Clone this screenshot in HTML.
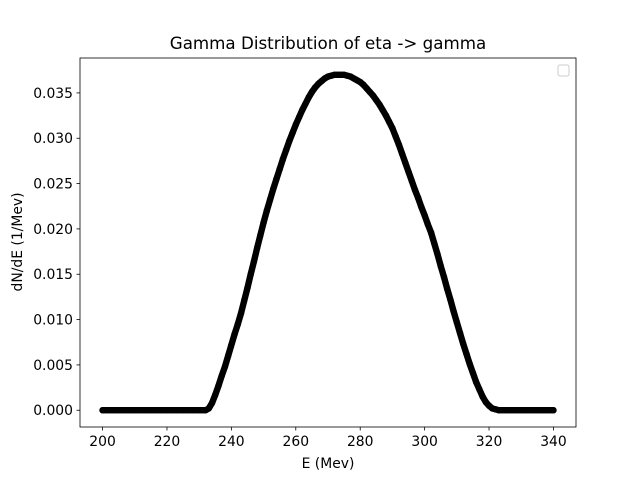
<!DOCTYPE html>
<html><head><meta charset="utf-8"><style>
body{margin:0;background:#fff;}
svg text{font-family:"DejaVu Sans","Liberation Sans",sans-serif;fill:#000;}
</style></head><body>
<svg id="chart" width="640" height="480" viewBox="0 0 640 480" xmlns="http://www.w3.org/2000/svg">
<rect width="640" height="480" fill="#fff"/>
<g id="marks"></g>
<g id="axes"></g>
<text x="328" y="49" font-size="16.7" text-anchor="middle">Gamma Distribution of eta -&gt; gamma</text>
<text x="328" y="468" font-size="13.9" text-anchor="middle">E (Mev)</text>
<text x="22" y="242" font-size="13.9" text-anchor="middle" transform="rotate(-90 22 242)">dN/dE (1/Mev)</text>
<rect x="558" y="65" width="11" height="11" rx="2" fill="#fff" stroke="#ccc"/>
</svg>
<script>
const xStart = 200;
const yValues = [
0,0,0,0,0,0,0,0,0,0, 0,0,0,0,0,0,0,0,0,0, 0,0,0,0,0,0,0,0,0,0, 0,0,0,
0.0002,0.0008,0.0017,0.0027,0.0038,0.0048,0.0060,0.0072,0.0084,0.0095,
0.0107,0.0121,0.0135,0.0150,0.0164,0.0179,0.0193,0.0207,0.0220,0.0232,
0.0244,0.0255,0.0266,0.0277,0.0287,0.0297,0.0306,0.0315,0.0323,0.0331,
0.0338,0.0345,0.0351,0.0356,0.0360,0.0363,0.0366,0.0368,0.0369,0.0370,
0.0370,0.0370,0.0370,0.0369,0.0368,0.0366,0.0364,0.0362,0.0359,0.0355,
0.0351,0.0347,0.0342,0.0337,0.0331,0.0325,0.0318,0.0311,0.0302,0.0293,
0.0283,0.0273,0.0263,0.0253,0.0243,0.0234,0.0224,0.0215,0.0205,0.0196,
0.0184,0.0172,0.0159,0.0147,0.0134,0.0122,0.0109,0.0097,0.0085,0.0073,
0.0062,0.0051,0.0041,0.0031,0.0023,0.0015,0.0009,0.0005,0.0002,0.0001,
0,0,0,0,0,0,0,0,0,0, 0,0,0,0,0,0,0,0
];
const xTicks = [200,220,240,260,280,300,320,340];
const yTicks = [0,0.005,0.010,0.015,0.020,0.025,0.030,0.035];
const yTickLabels = ["0.000","0.005","0.010","0.015","0.020","0.025","0.030","0.035"];

const L=80,R=576,T=58,B=427;
const xMin=193,xMax=347,yMin=-0.00185,yMax=0.03885;
const sx=v=>L+(v-xMin)/(xMax-xMin)*(R-L);
const sy=v=>B-(v-yMin)/(yMax-yMin)*(B-T);
const NS="http://www.w3.org/2000/svg";
const marks=document.getElementById('marks');
const pts=yValues.map((y,i)=>sx(xStart+i).toFixed(2)+','+sy(y).toFixed(2)).join(' ');
const pl=document.createElementNS(NS,'polyline');
pl.setAttribute('points',pts);
pl.setAttribute('fill','none');pl.setAttribute('stroke','#000');
pl.setAttribute('stroke-width',6.4);pl.setAttribute('stroke-linejoin','round');pl.setAttribute('stroke-linecap','round');


marks.appendChild(pl);
yValues.forEach((y,i)=>{
  const c=document.createElementNS(NS,'circle');
  c.setAttribute('cx',sx(xStart+i));c.setAttribute('cy',sy(y));c.setAttribute('r',3.2);
  c.setAttribute('fill','#000');
  
  
  marks.appendChild(c);
});
const axes=document.getElementById('axes');
function add(tag,attrs,text){const e=document.createElementNS(NS,tag);for(const k in attrs)e.setAttribute(k,attrs[k]);if(text!==undefined)e.textContent=text;axes.appendChild(e);return e;}
const frame=add('rect',{x:L,y:T,width:R-L,height:B-T,fill:'none',stroke:'#000','stroke-width':0.8});


xTicks.forEach(v=>{
  const x=sx(v);
  const t=add('line',{x1:x,x2:x,y1:B,y2:B+3.5,stroke:'#000','stroke-width':0.8});
  
  
  const l=add('text',{x:x,y:B+19,'font-size':13.9,'text-anchor':'middle'},String(v));
  
  
});
yTicks.forEach((v,i)=>{
  const y=sy(v);
  const t=add('line',{x1:L-3.5,x2:L,y1:y,y2:y,stroke:'#000','stroke-width':0.8});
  
  
  const l=add('text',{x:L-7,y:y+5,'font-size':13.9,'text-anchor':'end'},yTickLabels[i]);
  
  
});
</script>
</body></html>
